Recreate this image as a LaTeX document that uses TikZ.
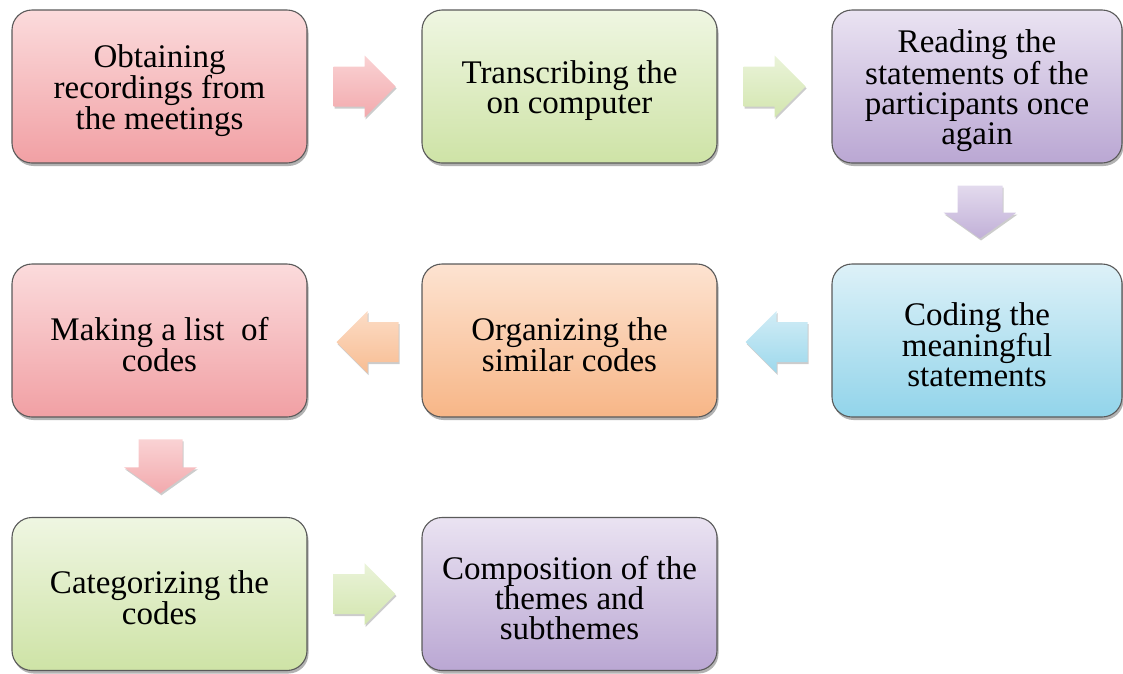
\documentclass[tikz,border=0pt]{standalone}
\usepackage{fontspec}
\usepackage{graphicx}
\setmainfont{Liberation Serif}
\usetikzlibrary{calc,shadows}
\definecolor{boxline}{HTML}{5A5A5A}
\definecolor{redT}{HTML}{FBDBDC}
\definecolor{redB}{HTML}{F1A0A4}
\definecolor{grnT}{HTML}{EFF6E2}
\definecolor{grnB}{HTML}{CEE3A6}
\definecolor{purT}{HTML}{EAE3F2}
\definecolor{purB}{HTML}{BAA7D3}
\definecolor{bluT}{HTML}{DDF1F8}
\definecolor{bluB}{HTML}{92D4EA}
\definecolor{orgT}{HTML}{FDE3D1}
\definecolor{orgB}{HTML}{F7B687}
\newcommand{\stxt}[1]{\raisebox{-4pt}[\height][\depth]{\parbox{290pt}{\centering\fontsize{33}{30}\selectfont #1}}}
\tikzset{
  box/.style={draw=boxline, line width=1.1pt, rounded corners=20pt,
    minimum width=295pt, minimum height=153pt, inner sep=0pt,
    align=center,
    drop shadow={shadow xshift=1.5pt, shadow yshift=-3pt, opacity=0.3, fill=black}},
  redbox/.style={box, top color=redT, bottom color=redB},
  grnbox/.style={box, top color=grnT, bottom color=grnB},
  purbox/.style={box, top color=purT, bottom color=purB},
  blubox/.style={box, top color=bluT, bottom color=bluB},
  orgbox/.style={box, top color=orgT, bottom color=orgB},
  blockarrow/.style={drop shadow={shadow xshift=1pt, shadow yshift=-2pt, opacity=0.2, fill=black}},
  redarr/.style={blockarrow, top color=redT!85!redB, bottom color=redB!90!white},
  grnarr/.style={blockarrow, top color=grnT!85!grnB, bottom color=grnB!90!white},
  purarr/.style={blockarrow, top color=purT!85!purB, bottom color=purB!90!white},
  bluarr/.style={blockarrow, top color=bluT!85!bluB, bottom color=bluB!90!white},
  orgarr/.style={blockarrow, top color=orgT!85!orgB, bottom color=orgB!90!white},
}
\begin{document}
\begin{tikzpicture}[x=1pt,y=-1pt]
\useasboundingbox (0,0) rectangle (1123,673);
% row 1
\node[redbox] (b1) at (159.5,86.5) {\stxt{Obtaining\\recordings from\\the meetings}};
\node[grnbox] (b2) at (569.5,86.5) {\stxt{Transcribing the\\on computer}};
\node[purbox, minimum width=288pt] (b3) at (977,86.5) {\stxt{Reading the\\statements of the\\participants once\\again}};
% row 2
\node[redbox] (b4) at (159.5,340.5) {\stxt{Making a list\ \ of\\codes}};
\node[orgbox] (b5) at (569.5,340.5) {\stxt{Organizing the\\similar codes}};
\node[blubox, minimum width=288pt] (b6) at (977,340.5) {\stxt{Coding the\\meaningful\\statements}};
% row 3
\node[grnbox] (b7) at (159.5,594) {\stxt{Categorizing the\\codes}};
\node[purbox] (b8) at (569.5,594) {\stxt{Composition of the\\themes and\\subthemes}};
% arrow positions
\coordinate (m12) at ($(b1.east)!0.5!(b2.west)$);
\coordinate (m23) at ($(b2.east)!0.5!(b3.west)$);
\coordinate (m36) at ($(b3.south)!0.5!(b6.north)$);
\coordinate (m65) at ($(b6.west)!0.5!(b5.east)$);
\coordinate (m54) at ($(b5.west)!0.5!(b4.east)$);
\coordinate (m47) at ($(b4.south)!0.5!(b7.north)$);
\coordinate (m78) at ($(b7.east)!0.5!(b8.west)$);
% right arrows
\path[redarr, shift={(m12)}] (-31,-20) -- (0,-20) -- (0,-31) -- (31,0) -- (0,31) -- (0,20) -- (-31,20) -- cycle;
\path[grnarr, shift={(m23)}] (-31,-20) -- (0,-20) -- (0,-31) -- (31,0) -- (0,31) -- (0,20) -- (-31,20) -- cycle;
\path[grnarr, shift={(m78)}] (-31,-20) -- (0,-20) -- (0,-31) -- (31,0) -- (0,31) -- (0,20) -- (-31,20) -- cycle;
% left arrows
\path[bluarr, shift={($(m65)+(2,1.5)$)}] (31,-20) -- (0,-20) -- (0,-31) -- (-31,0) -- (0,31) -- (0,20) -- (31,20) -- cycle;
\path[orgarr, shift={($(m54)+(3,1.5)$)}] (31,-20) -- (0,-20) -- (0,-31) -- (-31,0) -- (0,31) -- (0,20) -- (31,20) -- cycle;
% down arrows
\path[purarr, shift={($(m36)+(3,-1)$)}] (-22.5,-27) -- (22.5,-27) -- (22.5,0) -- (36.5,0) -- (0,26) -- (-36.5,0) -- (-22.5,0) -- cycle;
\path[redarr, shift={($(m47)+(1,0)$)}] (-22,-28) -- (22,-28) -- (22,0) -- (36.5,0) -- (0,26) -- (-36.5,0) -- (-22,0) -- cycle;
\end{tikzpicture}
\end{document}
